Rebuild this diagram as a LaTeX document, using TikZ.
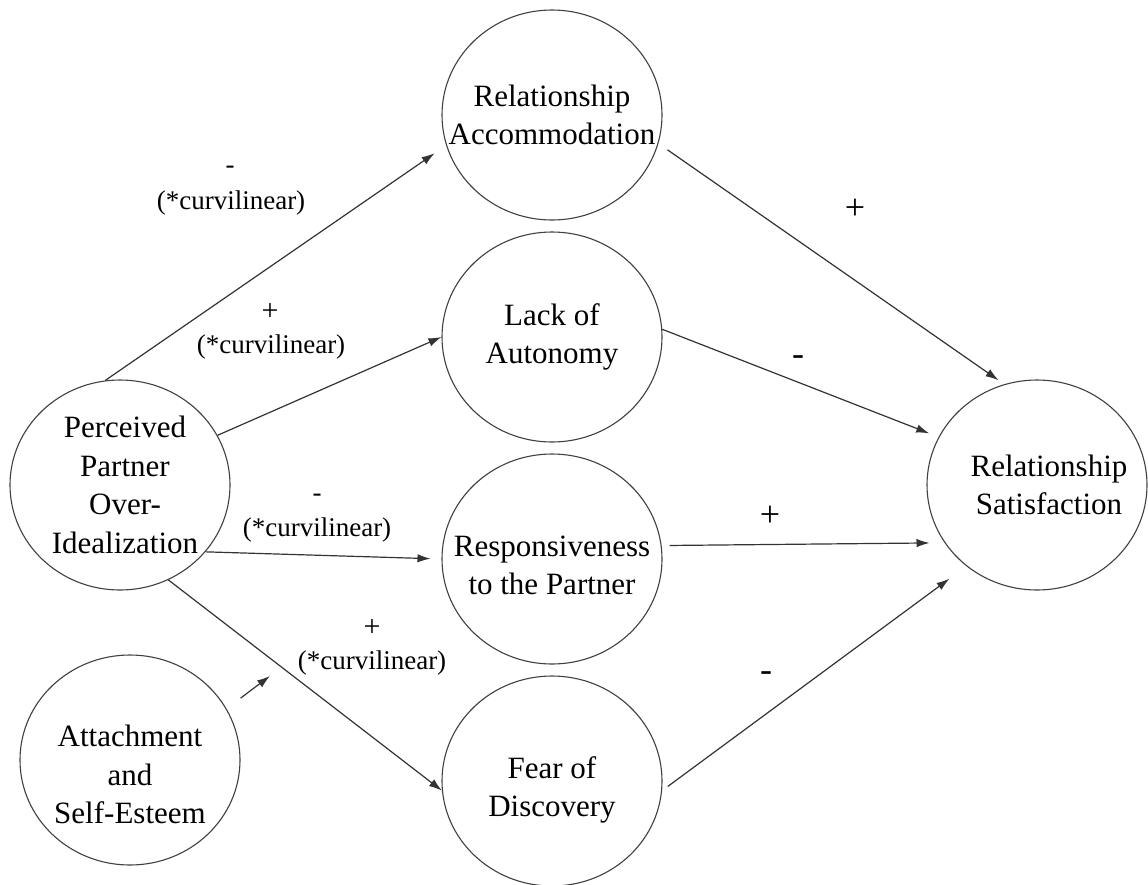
\documentclass[tikz,border=0pt]{standalone}
\usepackage{fontspec}
\setmainfont{Liberation Serif}
\usetikzlibrary{arrows.meta,shapes.geometric}
\begin{document}
\begin{tikzpicture}[x=1pt,y=-1pt,
  concept/.style={draw=black!75, line width=1.1pt, ellipse, minimum width=220pt, minimum height=210pt,
    inner xsep=-70pt, inner ysep=0pt, align=center, font=\fontsize{31}{38.5}\selectfont},
  arr/.style={draw=black!80, line width=1.2pt, -{Latex[length=13pt,width=8.5pt]}},
  sign/.style={font=\fontsize{27}{33}\selectfont, inner sep=0pt},
  bigsign/.style={font=\fontsize{36}{40}\selectfont, inner sep=0pt},
]
\fill[white] (0,0) rectangle (1148,884);
\useasboundingbox (0,0) rectangle (1148,884);

% concepts
\node[concept] (ra)   at (552,115) {Relationship\\Accommodation};
\node[concept] (loa)  at (552,337) {Lack of\\Autonomy};
\node[concept] (resp) at (552,559) {\rule{0pt}{33pt}Responsiveness\\to the Partner};
\node[concept] (fear) at (552,781) {\rule{0pt}{40pt}Fear of\\Discovery};
\node[concept] (poi)  at (120,485) {\hspace*{10pt}Perceived\\\hspace*{10pt}Partner\\\hspace*{10pt}Over-\\\hspace*{10pt}Idealization};
\node[concept] (att)  at (130,760) {\rule{0pt}{51pt}Attachment\\and\\Self-Esteem};
\node[concept] (rs)   at (1037,485) {\hspace*{24pt}Relationship\\\hspace*{24pt}Satisfaction};

% connectors
\draw[arr, shorten >=14pt] (poi.98) -- (ra.196);
\draw[arr] (poi.27) -- (loa.180);
\draw[arr, shorten >=11pt] (poi.322.5) -- (resp.180);
\draw[arr] (poi.297) -- (fear.185);
\draw[arr, shorten <=11pt, shorten >=7pt] (ra.-15.3) -- (rs.108.6);
\draw[arr, shorten >=10pt] (loa.4.6) -- (rs.154);
\draw[arr, shorten <=8pt, shorten >=15pt] (resp.7.8) -- (rs.212.2);
\draw[arr, shorten <=7pt, shorten >=21pt] (fear.-5.4) -- (rs.229);
\coordinate (attEnd) at (270,676);
\draw[arr, shorten <=17.5pt] (att.28.6) -- (attEnd);

% labels
\node[sign] (s1) at (230,170) {-};
\node[sign] (c1) at (231,203) {(*curvilinear)};
\node[sign, font=\fontsize{30}{33}\selectfont] (s2) at (270,312) {+};
\node[sign] (c2) at (271,347) {(*curvilinear)};
\node[sign] (s3) at (317,498) {-};
\node[sign] (c3) at (317,530) {(*curvilinear)};
\node[sign, font=\fontsize{30}{33}\selectfont] (s4) at (372,628) {+};
\node[sign] (c4) at (372,663) {(*curvilinear)};
\node[bigsign] (s5) at (855,209) {+};
\node[bigsign] (s6) at (798,361) {-};
\node[bigsign] (s7) at (770,516) {+};
\node[bigsign] (s8) at (766,677) {-};
\end{tikzpicture}
\end{document}
